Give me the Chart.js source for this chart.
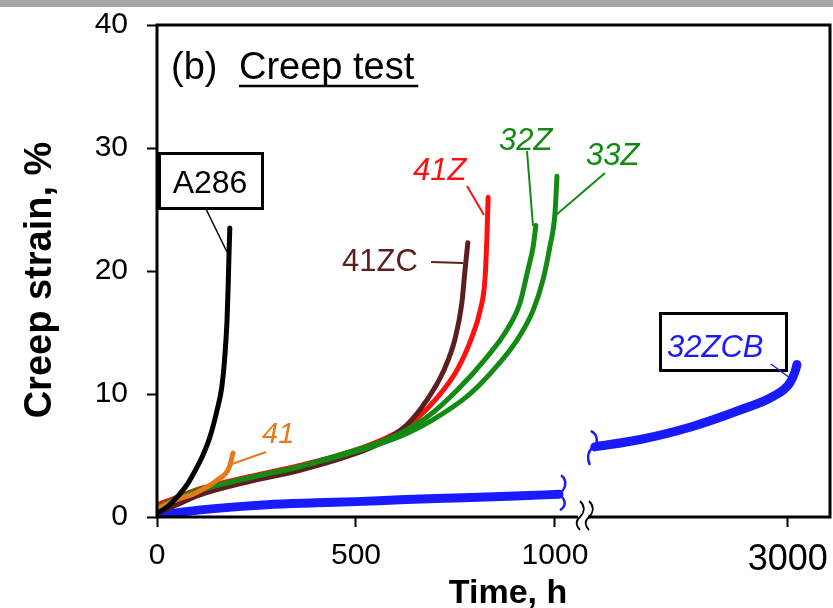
<!DOCTYPE html>
<html>
<head>
<meta charset="utf-8">
<script src="https://cdn.jsdelivr.net/npm/chart.js@4"></script>
<style>
  html, body { margin: 0; padding: 0; background: #fff; }
  #wrap { width: 833px; height: 608px; }
</style>
</head>
<body>
<div id="wrap"><canvas id="c" width="833" height="608"></canvas></div>
<script>
// values (time in h, creep strain in %)
const a286Time = [0, 25, 50, 75, 93, 115, 133, 151, 163, 171, 176, 179, 181, 183];
const a286Strain = [0.3, 0.8, 1.6, 2.6, 3.6, 5.0, 6.5, 8.7, 10.6, 13.3, 16.0, 19.0, 21.5, 23.5];

const s41Time = [0, 50, 100, 151, 181, 191];
const s41Strain = [0.7, 1.4, 2.0, 3.0, 4.0, 5.2];

const s41zTime = [0, 50, 108, 234, 359, 485, 560, 610, 653, 704, 754, 791, 812, 824, 829, 832];
const s41zStrain = [1.0, 1.6, 2.3, 3.3, 4.2, 5.3, 6.2, 7.0, 8.0, 9.7, 11.95, 14.6, 16.8, 19.3, 22.8, 26.0];

const s41zcTime = [0, 50, 108, 234, 359, 485, 560, 628, 678, 719, 749, 766, 774, 781];
const s41zcStrain = [0.3, 1.0, 1.8, 2.9, 3.8, 5.0, 6.0, 7.5, 9.5, 11.8, 14.5, 17.4, 20.1, 22.3];

const s32zTime = [0, 50, 108, 234, 359, 485, 560, 611, 678, 754, 829, 879, 912, 932, 945, 952];
const s32zStrain = [0.7, 1.5, 2.2, 3.2, 4.1, 5.3, 6.1, 6.8, 8.1, 10.3, 13.0, 15.2, 17.4, 20.1, 21.95, 23.7];

const s33zTime = [0, 50, 108, 234, 359, 485, 560, 628, 693, 779, 844, 905, 945, 970, 987, 1000, 1005];
const s33zStrain = [0.8, 1.5, 2.2, 3.2, 4.1, 5.2, 5.95, 6.8, 7.9, 9.8, 11.9, 14.4, 16.8, 19.3, 21.95, 24.7, 27.7];

// 32ZCB, before and after the axis break
const s32zcbTime1 = [0, 66, 150, 276, 400, 500, 610, 750, 900, 1010];
const s32zcbStrain1 = [0.1, 0.4, 0.7, 1.0, 1.15, 1.25, 1.4, 1.55, 1.7, 1.85];
const s32zcbTime2 = [2030, 2258, 2508, 2760, 2926, 3010, 3036, 3046];
const s32zcbStrain2 = [5.7, 6.3, 7.3, 8.7, 9.8, 10.9, 11.8, 12.4];

const xTickHours = [0, 500, 1000, 3000];
const xTickLabels = ['0', '500', '1000', '3000'];
const yTicks = [0, 10, 20, 30, 40];

// broken time axis: 0..1050 h linear, then compressed segment around 3000 h
function toAxis(h) {
  return h <= 1050 ? h : 1585 + (h - 3000) * 0.5;
}
function pts(t, s) {
  return t.map((v, i) => ({ x: toAxis(v), y: s[i] }));
}

const FONT = '"Liberation Sans", Arial, Helvetica, sans-serif';

function line(label, t, s, color, width) {
  return {
    label, data: pts(t, s), borderColor: color, backgroundColor: color,
    borderWidth: width, pointRadius: 0, cubicInterpolationMode: 'monotone',
    borderCapStyle: 'round', borderJoinStyle: 'round', fill: false
  };
}

function brace(ctx, x, y, flip) {
  ctx.beginPath();
  if (!flip) {
    ctx.moveTo(x + 3, y - 19);
    ctx.bezierCurveTo(x + 10, y - 14, x + 8, y - 4, x, y);
    ctx.bezierCurveTo(x + 8, y + 4, x + 9, y + 12, x + 2, y + 16);
  } else {
    ctx.moveTo(x - 3, y - 16);
    ctx.bezierCurveTo(x + 5, y - 12, x + 4, y - 3, x, y);
    ctx.bezierCurveTo(x - 6, y + 4, x - 7, y + 11, x - 4, y + 18);
  }
  ctx.stroke();
}

function noPad(s) {
  s.paddingTop = 0; s.paddingBottom = 0; s.paddingLeft = 0; s.paddingRight = 0;
}

const decor = {
  id: 'decor',
  beforeDraw(chart) {
    const ctx = chart.ctx;
    ctx.save();
    ctx.fillStyle = '#fff';
    ctx.fillRect(0, 0, chart.width, chart.height);
    ctx.fillStyle = '#a6a6a6';
    ctx.fillRect(0, 0, chart.width, 7);
    ctx.restore();
  },
  afterDraw(chart) {
    const ctx = chart.ctx;
    const a = chart.chartArea;
    const xs = chart.scales.x, ys = chart.scales.y;
    ctx.save();
    // frame
    ctx.strokeStyle = '#000';
    ctx.lineWidth = 3;
    ctx.strokeRect(a.left, a.top, a.right - a.left, a.bottom - a.top);

    // axis break marks
    const bx = 579;
    ctx.fillStyle = '#fff';
    ctx.fillRect(bx - 1, a.bottom - 3, 10, 6);
    ctx.strokeStyle = '#000';
    ctx.lineWidth = 1.8;
    [bx, bx + 9].forEach(x0 => {
      ctx.beginPath();
      ctx.moveTo(x0 + 1, a.bottom - 16);
      ctx.bezierCurveTo(x0 + 7, a.bottom - 10, x0 + 5, a.bottom - 4, x0 + 1, a.bottom);
      ctx.bezierCurveTo(x0 - 4, a.bottom + 4, x0 - 3, a.bottom + 9, x0 + 1, a.bottom + 13);
      ctx.stroke();
    });

    // braces at the 32ZCB segment ends
    ctx.strokeStyle = '#1a1aff';
    ctx.lineWidth = 2.5;
    const e1 = s32zcbTime1.length - 1;
    brace(ctx, xs.getPixelForValue(toAxis(s32zcbTime1[e1])) - 1, ys.getPixelForValue(s32zcbStrain1[e1]), false);
    brace(ctx, xs.getPixelForValue(toAxis(s32zcbTime2[0])) - 1, ys.getPixelForValue(s32zcbStrain2[0]), true);

    // panel title
    ctx.fillStyle = '#000';
    ctx.strokeStyle = '#000';
    ctx.textBaseline = 'alphabetic';
    ctx.textAlign = 'left';
    ctx.font = '38px ' + FONT;
    ctx.fillText('(b)', 171, 79);
    ctx.fillText('Creep test', 239, 79);
    const w = ctx.measureText('Creep test').width;
    ctx.lineWidth = 2.5;
    ctx.beginPath(); ctx.moveTo(239, 86); ctx.lineTo(239 + w + 4, 86); ctx.stroke();

    // A286 box
    ctx.lineWidth = 3;
    ctx.strokeRect(159.5, 153.5, 103, 55);
    ctx.font = '32px ' + FONT;
    ctx.textAlign = 'center';
    ctx.fillText('A286', 210, 193);
    ctx.lineWidth = 1.5;
    ctx.beginPath(); ctx.moveTo(205, 207); ctx.lineTo(227, 252); ctx.stroke();

    // 41ZC
    ctx.textAlign = 'left';
    ctx.fillStyle = '#5c1f1f'; ctx.strokeStyle = '#5c1f1f';
    ctx.font = '31px ' + FONT;
    ctx.fillText('41ZC', 342, 271);
    ctx.lineWidth = 2;
    ctx.beginPath(); ctx.moveTo(431, 262); ctx.lineTo(463, 263); ctx.stroke();

    // 41Z
    ctx.fillStyle = '#ff1010'; ctx.strokeStyle = '#ff1010';
    ctx.font = 'italic 31px ' + FONT;
    ctx.fillText('41Z', 413, 180);
    ctx.beginPath(); ctx.moveTo(467, 186); ctx.lineTo(484, 215); ctx.stroke();

    // 32Z, 33Z
    ctx.fillStyle = '#138a13'; ctx.strokeStyle = '#138a13';
    ctx.fillText('32Z', 499, 150);
    ctx.fillText('33Z', 586, 165);
    ctx.beginPath(); ctx.moveTo(527, 151); ctx.lineTo(533, 226); ctx.stroke();
    ctx.beginPath(); ctx.moveTo(605, 173); ctx.lineTo(556, 215); ctx.stroke();

    // 41
    ctx.fillStyle = '#e8781a'; ctx.strokeStyle = '#e8781a';
    ctx.font = 'italic 29px ' + FONT;
    ctx.fillText('41', 262, 443);
    ctx.beginPath(); ctx.moveTo(266, 452); ctx.lineTo(232, 464); ctx.stroke();

    // 32ZCB box
    ctx.strokeStyle = '#000';
    ctx.lineWidth = 3;
    ctx.strokeRect(660.5, 313.5, 126, 57);
    ctx.fillStyle = '#1a1aff'; ctx.strokeStyle = '#1a1aff';
    ctx.font = 'italic 31px ' + FONT;
    ctx.fillText('32ZCB', 667, 357);
    ctx.lineWidth = 1.5;
    ctx.beginPath(); ctx.moveTo(771, 364); ctx.lineTo(790, 378); ctx.stroke();

    // axis titles
    ctx.fillStyle = '#000';
    ctx.font = 'bold 34px ' + FONT;
    ctx.textAlign = 'center';
    ctx.fillText('Time, h', 508, 603);
    ctx.save();
    ctx.translate(41, 280);
    ctx.rotate(-Math.PI / 2);
    ctx.font = 'bold 38px ' + FONT;
    ctx.textBaseline = 'middle';
    ctx.fillText('Creep strain, %', 0, 0);
    ctx.restore();

    ctx.restore();
  }
};

new Chart(document.getElementById('c'), {
  type: 'line',
  data: {
    datasets: [
      line('A286', a286Time, a286Strain, '#000000', 5),
      line('41', s41Time, s41Strain, '#e8781a', 5),
      line('33Z', s33zTime, s33zStrain, '#138a13', 5),
      line('32Z', s32zTime, s32zStrain, '#138a13', 5),
      line('41ZC', s41zcTime, s41zcStrain, '#5c1f1f', 5),
      line('41Z', s41zTime, s41zStrain, '#ff1010', 5),
      line('32ZCB', s32zcbTime1, s32zcbStrain1, '#1a1aff', 9),
      line('32ZCB b', s32zcbTime2, s32zcbStrain2, '#1a1aff', 9)
    ]
  },
  options: {
    responsive: false,
    animation: false,
    devicePixelRatio: 1,
    layout: { padding: { top: 25, right: 3, left: 0, bottom: 0 } },
    plugins: { legend: { display: false }, tooltip: { enabled: false } },
    scales: {
      x: {
        type: 'linear', min: 0, max: 1691,
        border: { display: false },
        grid: { drawOnChartArea: false, drawTicks: true, tickLength: 10, tickColor: '#000', tickWidth: 2 },
        afterBuildTicks: s => { s.ticks = xTickHours.map(h => ({ value: toAxis(h) })); },
        afterFit: s => { s.height = 91; noPad(s); },
        ticks: {
          color: '#000', padding: 11, maxRotation: 0, autoSkip: false,
          font: c => ({ family: FONT, size: (c.tick && c.tick.value > 1200) ? 36 : 30 }),
          callback: (v, i) => xTickLabels[i]
        }
      },
      y: {
        type: 'linear', min: 0, max: 40,
        border: { display: false },
        grid: { drawOnChartArea: false, drawTicks: true, tickLength: 10, tickColor: '#000', tickWidth: 2 },
        afterBuildTicks: s => { s.ticks = yTicks.map(v => ({ value: v })); },
        afterFit: s => { s.width = 157; noPad(s); },
        ticks: { color: '#000', padding: 19, font: { family: FONT, size: 30 } }
      }
    }
  },
  plugins: [decor]
});
</script>
</body>
</html>
